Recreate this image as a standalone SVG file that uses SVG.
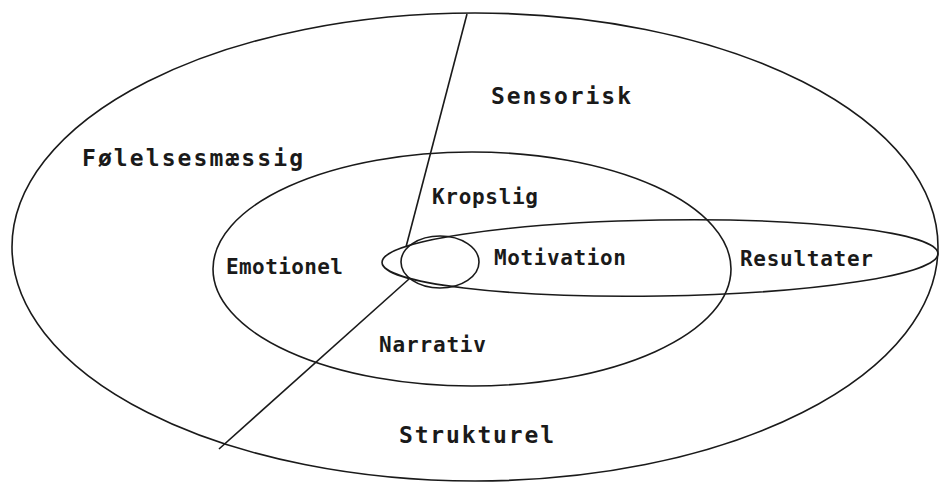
<svg xmlns="http://www.w3.org/2000/svg" width="940" height="485" viewBox="0 0 940 485">
<style>
.shape{fill:none;stroke:#1a1a1a;stroke-width:1.6}
.lbl{font-family:"DejaVu Sans Mono","Liberation Mono",monospace;font-size:21px;font-weight:bold;fill:#1a1a1a}
.big{font-size:23px}
</style>
<rect width="940" height="485" fill="#fff"/>
<g id="outer"><ellipse class="shape" cx="475" cy="247" rx="463" ry="234"/></g>
<g id="middle"><ellipse class="shape" cx="472" cy="269" rx="259" ry="117"/></g>
<g id="resultater-ellipse"><ellipse class="shape" cx="660" cy="258" rx="278" ry="38" transform="rotate(-0.9 660 258)"/></g>
<g id="motivation-circle"><ellipse class="shape" cx="440" cy="262" rx="39" ry="26"/></g>
<g id="connectors">
<line class="shape" x1="467" y1="14" x2="406" y2="247"/>
<line class="shape" x1="409" y1="279" x2="219" y2="449"/>
</g>
<g id="labels">
<text class="lbl big" x="491" y="104" textLength="140" lengthAdjust="spacing">Sensorisk</text>
<text class="lbl big" x="82" y="166" textLength="221" lengthAdjust="spacing">Følelsesmæssig</text>
<text class="lbl big" x="399" y="443" textLength="155" lengthAdjust="spacing">Strukturel</text>
<text class="lbl" x="432" y="204" textLength="106" lengthAdjust="spacing">Kropslig</text>
<text class="lbl" x="226" y="274" textLength="117" lengthAdjust="spacing">Emotionel</text>
<text class="lbl" x="494" y="265" textLength="132" lengthAdjust="spacing">Motivation</text>
<text class="lbl" x="740" y="266" textLength="133" lengthAdjust="spacing">Resultater</text>
<text class="lbl" x="379" y="352" textLength="107" lengthAdjust="spacing">Narrativ</text>
</g>
</svg>
